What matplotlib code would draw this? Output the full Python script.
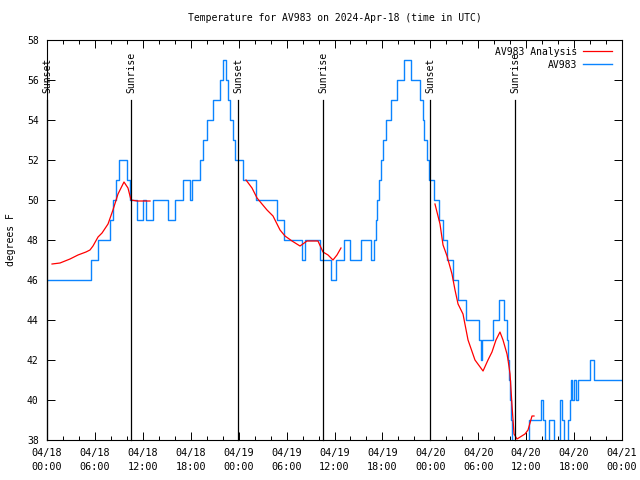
"""Temperature observations vs analysis for station AV983, gnuplot-style look."""

import matplotlib

matplotlib.use("Agg")
import matplotlib.dates as mdates
import matplotlib.pyplot as plt
import numpy as np
import pandas as pd

START = pd.Timestamp("2024-04-18 00:00")

# observed temperature (F): hours after 04/18 00:00 UTC where the reading changes
obs_hours = [0.00, 5.51, 6.39, 7.89, 8.26, 8.64, 9.02, 10.02, 10.39, 11.27,
             12.02, 12.40, 13.27, 15.15, 16.03, 17.03, 17.91, 18.16, 19.16, 19.53,
             20.04, 20.79, 21.66, 22.04, 22.41, 22.66, 22.92, 23.29, 23.54, 24.54,
             26.17, 28.80, 29.68, 31.93, 32.31, 34.19, 35.56, 36.19, 37.19, 37.94,
             39.32, 40.57, 40.95, 41.20, 41.32, 41.57, 41.82, 42.07, 42.45, 43.08,
             43.83, 44.70, 45.58, 46.71, 47.08, 47.21, 47.58, 47.83, 48.46, 49.09,
             49.59, 50.09, 50.84, 51.47, 52.47, 54.10, 54.35, 54.47, 55.85, 56.60,
             57.22, 57.60, 57.73, 57.85, 57.98, 58.10, 58.23, 58.35, 60.36, 61.86,
             62.11, 62.36, 62.61, 62.86, 63.49, 64.24, 64.49, 64.74, 65.24, 65.49,
             65.61, 65.74, 65.99, 66.24, 66.49, 67.99, 68.49, 72.00]
obs_temp = [46, 47, 48, 49, 50, 51, 52, 51, 50, 49,
            50, 49, 50, 49, 50, 51, 50, 51, 52, 53,
            54, 55, 56, 57, 56, 55, 54, 53, 52, 51,
            50, 49, 48, 47, 48, 47, 46, 47, 48, 47,
            48, 47, 48, 49, 50, 51, 52, 53, 54, 55,
            56, 57, 56, 55, 54, 53, 52, 51, 50, 49,
            48, 47, 46, 45, 44, 43, 42, 43, 44, 45,
            44, 43, 42, 41, 40, 39, 38, 37, 39, 40,
            39, 38, 37, 39, 37, 40, 39, 37, 39, 40,
            41, 40, 41, 40, 41, 42, 41, 41]

# analysis temperature, three separate pieces
ana1_hours = [0.63, 1.63, 2.88, 3.88, 4.88, 5.38, 5.76, 6.39, 6.89, 7.64,
              8.26, 8.89, 9.64, 10.14, 10.52, 11.27, 12.90]
ana1_temp = [46.8, 46.85, 47.05, 47.25, 47.4, 47.5, 47.7, 48.15, 48.35, 48.8,
             49.5, 50.3, 50.9, 50.6, 50.0, 49.95, 49.95]
ana2_hours = [24.92, 25.67, 26.30, 26.92, 27.55, 28.30, 29.18, 29.80, 30.68, 31.68,
              32.56, 33.93, 34.56, 35.19, 35.81, 36.31, 36.81]
ana2_temp = [51.0, 50.6, 50.1, 49.8, 49.5, 49.2, 48.5, 48.2, 47.95, 47.7,
             47.95, 47.95, 47.4, 47.25, 47.0, 47.25, 47.6]
ana3_hours = [48.58, 49.21, 49.59, 50.09, 50.71, 51.09, 51.47, 52.09, 52.72, 53.59,
              54.60, 55.22, 55.72, 56.22, 56.72, 57.10, 57.60, 57.73, 57.98, 58.23,
              58.48, 58.85, 59.85, 60.23, 60.73, 60.98]
ana3_temp = [49.8, 48.8, 47.75, 47.2, 46.3, 45.5, 44.8, 44.3, 43.0, 42.0,
             41.45, 42.0, 42.4, 43.0, 43.4, 43.0, 42.3, 42.0, 41.3, 39.7,
             38.3, 38.05, 38.3, 38.5, 39.2, 39.2]

event_hours = [0.0, 10.52, 23.92, 34.56, 47.96, 58.60]
event_names = ["Sunset", "Sunrise", "Sunset", "Sunrise", "Sunset", "Sunrise"]


def to_time(hours):
    return START + pd.to_timedelta(np.asarray(hours, dtype=float), unit="h")


plt.rcParams["font.family"] = "DejaVu Sans Mono"
plt.rcParams["font.size"] = 7

fig = plt.figure(figsize=(6.4, 4.8), dpi=100)
ax = fig.add_axes([47 / 640, 40 / 480, 575 / 640, 400 / 480])

# join the analysis pieces with NaN gaps so it is one legend entry
ana_hours = ana1_hours + [np.nan] + ana2_hours + [np.nan] + ana3_hours
ana_temp = ana1_temp + [np.nan] + ana2_temp + [np.nan] + ana3_temp
ana_times = START + pd.to_timedelta(ana_hours, unit="h")

blue, = ax.plot(to_time(obs_hours), obs_temp, color="#0a84ff", lw=1.0,
                drawstyle="steps-post", label="AV983")
red, = ax.plot(ana_times, ana_temp, color="#ff0000", lw=0.9, label="AV983 Analysis")

for hour, name in zip(event_hours, event_names):
    when = to_time([hour])[0]
    ax.plot([when, when], [38, 55.0], color="black", lw=0.9, clip_on=False)
    ax.text(when, 55.35, name, rotation=90, ha="center", va="bottom")

ax.set_xlim(START, START + pd.Timedelta(hours=72))
ax.set_ylim(38, 58)
ax.set_yticks(range(38, 59, 2))
ax.xaxis.set_major_locator(mdates.HourLocator(byhour=range(0, 24, 6)))
ax.xaxis.set_minor_locator(mdates.HourLocator(byhour=range(0, 24, 2)))
ax.xaxis.set_major_formatter(mdates.DateFormatter("%m/%d\n%H:%M"))
ax.tick_params(which="both", direction="in", top=True, right=True, width=0.7)
ax.tick_params(which="major", length=6, pad=6)
ax.tick_params(which="minor", length=3)
ax.tick_params(axis="x", labelsize=7.3)
for label in ax.get_xticklabels():
    label.set_linespacing(1.45)
for spine in ax.spines.values():
    spine.set_linewidth(0.8)

ax.set_ylabel("degrees F", labelpad=8)
ax.set_title("Temperature for AV983 on 2024-Apr-18 (time in UTC)", fontsize=7, pad=14)

ax.legend(handles=[red, blue], loc="upper right", frameon=False, markerfirst=False,
          handlelength=3.0, handletextpad=0.6, borderaxespad=0.3, labelspacing=0.3,
          bbox_to_anchor=(0.995, 1.0))

fig.savefig("out.png", dpi=100)
